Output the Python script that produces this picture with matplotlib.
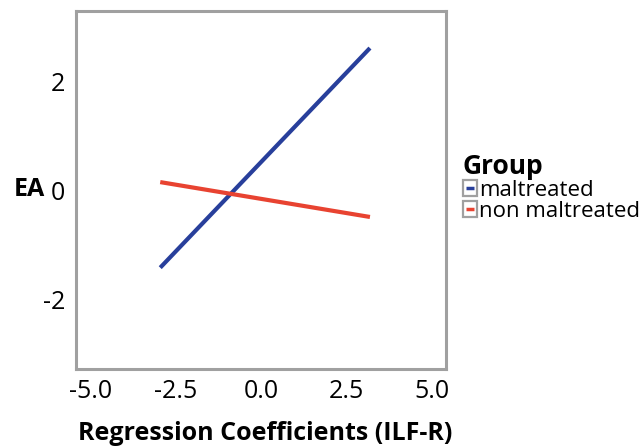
import matplotlib.pyplot as plt
from matplotlib.lines import Line2D
from matplotlib.patches import Rectangle

plt.rcParams["font.family"] = ["Open Sans", "DejaVu Sans"]
plt.rcParams["axes.unicode_minus"] = False

# predicted EA at low / high regression coefficient
x_vals = [-2.96, 3.19]
groups = ["maltreated", "non maltreated"]
ea_maltreated = [-1.41, 2.62]
ea_non_maltreated = [0.16, -0.48]
colors = ["#283f9b", "#e84331"]


class BoxLineHandler:
    # gray square with a short coloured dash inside, like the reference legend keys
    def __init__(self, color):
        self.color = color

    def legend_artist(self, legend, orig_handle, fontsize, handlebox):
        x0, y0 = handlebox.xdescent, handlebox.ydescent
        w, h = handlebox.width, handlebox.height
        box = Rectangle((x0, y0), w, h, facecolor="white", edgecolor="#a0a0a0",
                        lw=1.6, transform=handlebox.get_transform())
        ln = Line2D([x0 + 0.2 * w, x0 + 0.8 * w], [y0 + h / 2, y0 + h / 2],
                    color=self.color, lw=2.5, solid_capstyle="butt",
                    transform=handlebox.get_transform())
        handlebox.add_artist(box)
        handlebox.add_artist(ln)
        return box


fig = plt.figure(figsize=(6.44, 4.47), dpi=100)
ax = fig.add_axes([76 / 644, 1 - 369 / 447, 370 / 644, 358 / 447])

ax.plot(x_vals, ea_maltreated, color=colors[0], lw=3, solid_capstyle="butt")
ax.plot(x_vals, ea_non_maltreated, color=colors[1], lw=3, solid_capstyle="butt")

ax.set_xlim(-5.43, 5.42)
ax.set_ylim(-3.27, 3.30)
ax.set_xticks([-5.0, -2.5, 0.0, 2.5, 5.0])
ax.set_xticklabels(["-5.0", "-2.5", "0.0", "2.5", "5.0"])
ax.set_yticks([-2, 0, 2])
ax.tick_params(length=0, labelsize=18, colors="black")
ax.tick_params(axis="x", pad=7)
ax.tick_params(axis="y", pad=8)
for s in ax.spines.values():
    s.set_color("#a0a0a0")
    s.set_linewidth(2.2)

ax.set_xlabel("Regression Coefficients (ILF-R)", fontsize=18, fontweight="bold", va="center")
ax.xaxis.set_label_coords(0.51, -0.18)
ax.set_ylabel("EA", fontsize=18, fontweight="bold", rotation=0, va="center", ha="center")
ax.yaxis.set_label_coords(-0.127, 0.5)

keys = [Rectangle((0, 0), 1, 1) for _ in groups]
leg = ax.legend(keys, groups, title="Group", loc="upper left",
                bbox_to_anchor=(1.045, 0.603), frameon=False, fontsize=16,
                handler_map={keys[0]: BoxLineHandler(colors[0]),
                             keys[1]: BoxLineHandler(colors[1])},
                handlelength=0.65, handleheight=0.72, handletextpad=0.1,
                labelspacing=0.0, borderpad=0, borderaxespad=0)
leg.get_title().set_fontweight("bold")
leg.get_title().set_fontsize(19)
leg._legend_box.align = "left"

fig.savefig("out.png", dpi=100)
